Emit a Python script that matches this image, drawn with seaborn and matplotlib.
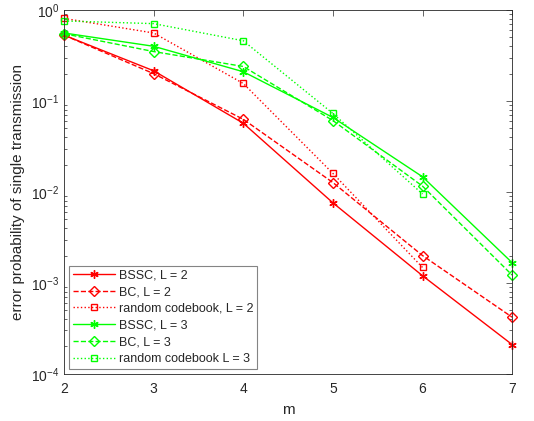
import numpy as np
import pandas as pd
import matplotlib
matplotlib.use("Agg")
import matplotlib.pyplot as plt
import seaborn as sns

# values (log scale)
m = [2, 3, 4, 5, 6, 7]
bssc_l2 = [0.53, 0.215, 0.057, 0.0076, 0.0012, 0.00021]
bc_l2 = [0.53, 0.20, 0.063, 0.0127, 0.0020, 0.00042]
rand_l2 = [0.81, 0.56, 0.156, 0.016, 0.00148]
bssc_l3 = [0.56, 0.40, 0.21, 0.066, 0.0147, 0.00167]
bc_l3 = [0.55, 0.35, 0.24, 0.061, 0.0116, 0.00122]
rand_l3 = [0.76, 0.71, 0.46, 0.073, 0.0095]

sns.set_style("white")
plt.rcParams['font.family'] = ['Liberation Sans', 'DejaVu Sans']
plt.rcParams['mathtext.fontset'] = 'custom'
plt.rcParams['mathtext.rm'] = 'Liberation Sans'
plt.rcParams['mathtext.it'] = 'Liberation Sans'

red = (1, 0, 0)
green = (0, 1, 0)
star = (6, 2, 0)

series = [
    ("BSSC, L = 2", bssc_l2, red, "-", star, 6),
    ("BC, L = 2", bc_l2, red, "--", "D", 5),
    ("random codebook, L = 2", rand_l2, red, ":", "s", 4.5),
    ("BSSC, L = 3", bssc_l3, green, "-", star, 6),
    ("BC, L = 3", bc_l3, green, "--", "D", 5),
    ("random codebook L = 3", rand_l3, green, ":", "s", 4.5),
]

fig = plt.figure(figsize=(5.34, 4.21), dpi=100)
ax = fig.add_axes([0.12, 0.112, 0.839, 0.864])

for label, vals, col, ls, mk, ms in series:
    df = pd.DataFrame({"m": m[:len(vals)], "p": vals})
    sns.lineplot(data=df, x="m", y="p", ax=ax, color=col, linestyle=ls,
                 marker=mk, markersize=ms, markerfacecolor="none",
                 markeredgecolor=col, markeredgewidth=1.0, linewidth=1.0,
                 label=label, clip_on=False)

ax.set_yscale("log")
ax.set_xlim(2, 7)
ax.set_ylim(1e-4, 1)
ax.set_xticks(m)
ax.set_xlabel("m", fontsize=11, labelpad=5)
ax.set_ylabel("error probability of single transmission", fontsize=11)

axc = (0.15, 0.15, 0.15)
for sp in ax.spines.values():
    sp.set_visible(True)
    sp.set_color(axc)
    sp.set_linewidth(0.6)
ax.tick_params(which="both", direction="in", top=True, right=True,
               colors=axc, labelsize=10, width=0.5)
ax.tick_params(which="major", length=4)
ax.tick_params(axis="x", which="major", pad=6)
ax.tick_params(which="minor", length=2, left=True, right=True)
ax.tick_params(axis="x", which="minor", bottom=False, top=False)
ax.xaxis.label.set_color(axc)
ax.yaxis.label.set_color(axc)

leg = ax.legend(loc="lower left", fontsize=9, handlelength=3.4,
                frameon=True, fancybox=False, borderaxespad=0.4,
                labelspacing=0.38, handletextpad=0.3, borderpad=0.3)
leg.get_frame().set_edgecolor((0.4, 0.4, 0.4))
leg.get_frame().set_linewidth(0.8)
leg.set_zorder(5)

fig.savefig("out.png", dpi=100)
